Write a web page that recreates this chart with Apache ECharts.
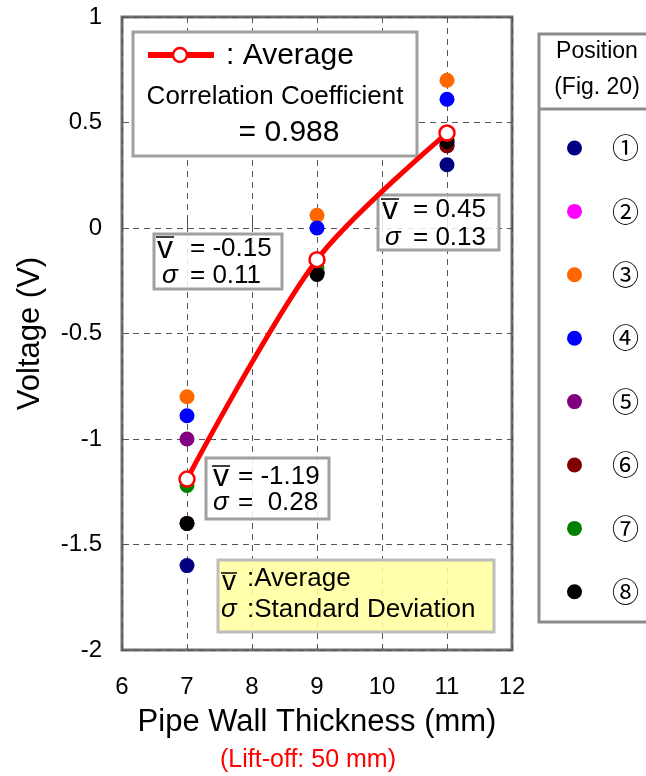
<!DOCTYPE html>
<html><head><meta charset="utf-8">
<script src="https://cdn.jsdelivr.net/npm/echarts@6/dist/echarts.min.js"></script>
<style>html,body{margin:0;padding:0;background:#fff}#c{width:646px;height:776px}</style>
</head><body><div id="c"></div>
<script>
// ---- data ----
const thickness = [7, 9, 11];
const positionNames = ['①','②','③','④','⑤','⑥','⑦','⑧'];
const positionColors = ['#000080','#ff00ff','#ff6600','#0000ff','#800080','#800000','#008000','#000000'];
const pos1 = [-1.60, -0.21, 0.30];
const pos2 = [-1.20, -0.21, 0.40];
const pos3 = [-0.80, 0.06, 0.70];
const pos4 = [-0.89, 0.00, 0.61];
const pos5 = [-1.00, -0.21, 0.39];
const pos6 = [-1.40, -0.21, 0.39];
const pos7 = [-1.22, -0.19, 0.42];
const pos8 = [-1.40, -0.22, 0.41];
const positions = [pos1, pos2, pos3, pos4, pos5, pos6, pos7, pos8];
const averageV = [-1.19, -0.15, 0.45];
const sigmaV = [0.28, 0.11, 0.13];
const correlation = 0.988;
const xTickMin = 6, xTickMax = 12, xTickStep = 1;
const yTickMin = -2, yTickMax = 1, yTickStep = 0.5;

const FF = '"Liberation Sans", Arial, Helvetica, sans-serif';
function txt(x, y, s, size, opts) {
  return {type:'text', x:x, y:y, z:20, style:Object.assign({text:s, fill:'#000',
    font: size + 'px ' + FF, textAlign:'left', textVerticalAlign:'middle', verticalAlign:'middle'}, opts || {})};
}
function box(x, y, w, h, stroke, fill) {
  return {type:'rect', z:15, shape:{x:x, y:y, width:w, height:h}, style:{fill:fill, stroke:stroke, lineWidth:3}};
}
function hline(x1, x2, y, color, lw) {
  return {type:'line', z:20, shape:{x1:x1, y1:y, x2:x2, y2:y}, style:{stroke:color || '#000', lineWidth:lw || 1.5}};
}

const series = positions.map((vals, i) => ({
  name: positionNames[i], type: 'scatter', symbol: 'circle', symbolSize: 15, z: 3,
  itemStyle: {color: positionColors[i], opacity: 1},
  data: thickness.map((t, j) => [t, vals[j]])
}));
series.push({
  name: 'Average', type: 'line', smooth: 0.3, z: 30,
  symbol: 'circle', symbolSize: 15, showSymbol: true,
  lineStyle: {color: '#ff0000', width: 5},
  itemStyle: {color: '#ffffff', borderColor: '#ff0000', borderWidth: 2.5},
  data: thickness.map((t, j) => [t, averageV[j]])
});

const boxFill = 'rgba(255,255,255,0.85)';
const g = [];
// Top-left legend / correlation box
g.push(box(133, 32, 284, 124, '#a0a0a0', '#ffffff'));
g.push(hline(148, 214, 55, '#ff0000', 6));
g.push({type:'circle', z:21, shape:{cx:180, cy:55, r:7}, style:{fill:'#fff', stroke:'#ff0000', lineWidth:2.5}});
g.push(txt(226, 56, ': Average', 30));
g.push(txt(275, 97, 'Correlation Coefficient', 26, {textAlign:'center'}));
g.push(txt(289, 133, '= ' + correlation.toFixed(3), 30, {textAlign:'center'}));

// stat boxes
function statBox(bx, by, bw, bh, vx, sx, tx, y1, y2, barY, i, sigTxt) {
  g.push(box(bx, by, bw, bh, '#a0a0a0', boxFill));
  g.push(txt(vx, y1, 'v', 32));
  g.push(hline(vx - 1, vx + 17, barY, '#000', 1.5));
  g.push(txt(tx, y1, '= ' + averageV[i].toFixed(2), 26));
  g.push(txt(sx, y2, 'σ', 26, {font:'italic 26px ' + FF}));
  g.push(txt(tx, y2, sigTxt, 26));
}
statBox(154, 234, 128, 55, 157, 162, 190, 249, 276, 237, 1, '= ' + sigmaV[1].toFixed(2));
statBox(378, 195, 121, 55, 382, 385, 413, 210, 238, 199, 2, '= ' + sigmaV[2].toFixed(2));
statBox(206, 458, 123, 61, 213, 213, 238, 477, 503, 466, 0, '=  ' + sigmaV[0].toFixed(2));

// yellow explanation box
g.push(box(218, 560, 276, 72, '#bdbdbd', 'rgba(255,255,160,0.88)'));
g.push(txt(222, 582, 'v', 28));
g.push(hline(221, 237, 573, '#000', 1.5));
g.push(txt(247, 579, ':Average', 26));
g.push(txt(221, 610, 'σ', 26, {font:'italic 26px ' + FF}));
g.push(txt(247, 610, ':Standard Deviation', 26));

// right position legend frame
g.push({type:'rect', z:15, shape:{x:539, y:34, width:120, height:588}, style:{fill:'#fff', stroke:'#8c8c8c', lineWidth:3}});
g.push(hline(539, 646, 109, '#8c8c8c', 3));
g.push(txt(597, 52, 'Position', 23, {textAlign:'center'}));
g.push(txt(597, 88, '(Fig. 20)', 23, {textAlign:'center'}));

// lift-off note
g.push(txt(308, 760, '(Lift-off: 50 mm)', 25, {textAlign:'center', fill:'#ff0000'}));

const chart = echarts.init(document.getElementById('c'), null, {renderer:'canvas'});
chart.setOption({
  backgroundColor: '#fff',
  animation: false,
  textStyle: {fontFamily: FF},
  grid: {left: 122, top: 17, right: 134, bottom: 126, show: true, borderColor: '#6e6e6e', borderWidth: 3, backgroundColor: 'transparent'},
  xAxis: {
    type: 'value', min: xTickMin, max: xTickMax, interval: xTickStep,
    name: 'Pipe Wall Thickness (mm)', nameLocation: 'middle', nameGap: 57,
    nameTextStyle: {fontSize: 31, color: '#000', fontFamily: FF},
    axisLine: {show: false},
    axisTick: {show: true, inside: true, length: 7, lineStyle: {color: '#555'}},
    axisLabel: {fontSize: 24, color: '#000', margin: 25, fontFamily: FF},
    splitLine: {show: true, lineStyle: {color: '#555', type: [6, 5], width: 1}}
  },
  yAxis: {
    type: 'value', min: yTickMin, max: yTickMax, interval: yTickStep,
    name: 'Voltage (V)', nameLocation: 'middle', nameGap: 76,
    nameTextStyle: {fontSize: 31, color: '#000', fontFamily: FF},
    axisLine: {show: false},
    axisTick: {show: true, inside: true, length: 7, lineStyle: {color: '#555'}},
    axisLabel: {fontSize: 24, color: '#000', margin: 20, fontFamily: FF},
    splitLine: {show: true, lineStyle: {color: '#555', type: [6, 5], width: 1}}
  },
  legend: {
    data: positionNames, orient: 'vertical', left: 562, top: 129.5,
    itemWidth: 15, itemHeight: 15, itemGap: 36.4, icon: 'circle', selectedMode: false, z: 25,
    textStyle: {fontSize: 27, color: '#000', padding: [0, 0, 0, 25],
      fontFamily: '"Noto Sans CJK JP", "DejaVu Sans", sans-serif'}
  },
  graphic: g,
  series: series
});
</script></body></html>
